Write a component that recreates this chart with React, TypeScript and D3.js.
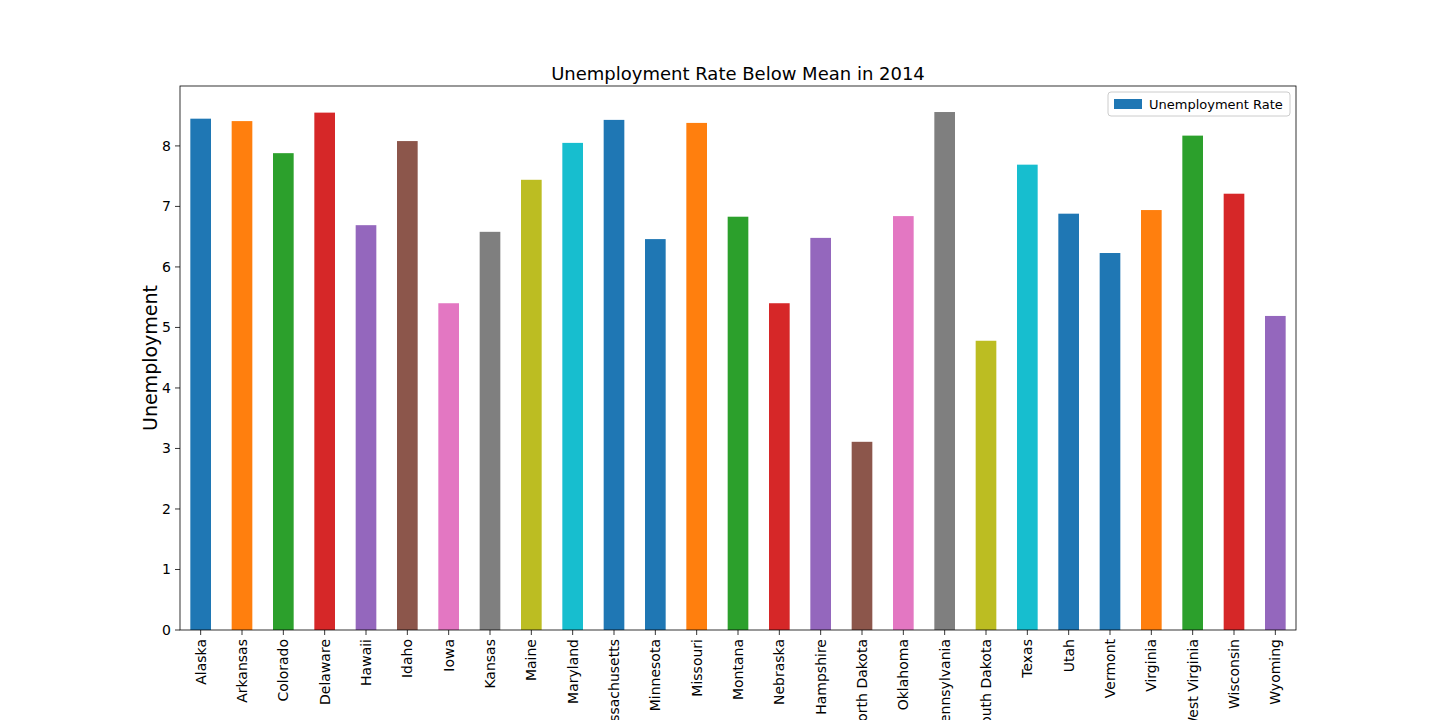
import React from 'react'
import * as d3 from 'd3'

const states = ['Alaska', 'Arkansas', 'Colorado', 'Delaware', 'Hawaii', 'Idaho', 'Iowa', 'Kansas', 'Maine', 'Maryland', 'Massachusetts', 'Minnesota', 'Missouri', 'Montana', 'Nebraska', 'New Hampshire', 'North Dakota', 'Oklahoma', 'Pennsylvania', 'South Dakota', 'Texas', 'Utah', 'Vermont', 'Virginia', 'West Virginia', 'Wisconsin', 'Wyoming']
const rates = [8.45, 8.41, 7.88, 8.55, 6.69, 8.08, 5.40, 6.58, 7.44, 8.05, 8.43, 6.46, 8.38, 6.83, 5.40, 6.48, 3.11, 6.84, 8.56, 4.78, 7.69, 6.88, 6.23, 6.94, 8.17, 7.21, 5.19]
const yTicks = [0, 1, 2, 3, 4, 5, 6, 7, 8]
// colour cycle as in the reference: tab10 followed by an extra blue
const palette = ['#1f77b4', '#ff7f0e', '#2ca02c', '#d62728', '#9467bd', '#8c564b', '#e377c2', '#7f7f7f', '#bcbd22', '#17becf', '#1f77b4']

const W = 1440
const H = 720
const m = { left: 180, right: 1296, top: 86, bottom: 630 }

export default function App() {
  const x = d3.scaleBand<string>().domain(states).range([m.left, m.right]).paddingInner(0.5).paddingOuter(0.25)
  const y = d3.scaleLinear().domain([0, 8.99]).range([m.bottom, m.top])
  const font = 'DejaVu Sans, sans-serif'

  return (
    <svg width={W} height={H} style={{ position: 'absolute', left: 0, top: 0, fontFamily: font }}>
      <rect width={W} height={H} fill="#fff" />
      {states.map((s, i) => (
        <rect key={s} x={x(s)} y={y(rates[i])} width={x.bandwidth()} height={y(0) - y(rates[i])} fill={palette[i % palette.length]} />
      ))}
      <rect x={m.left} y={m.top} width={m.right - m.left} height={m.bottom - m.top} fill="none" stroke="#000" strokeWidth={0.8} />
      {yTicks.map(t => (
        <g key={t} transform={`translate(${m.left},${y(t)})`}>
          <line x2={-5} stroke="#000" strokeWidth={0.8} />
          <text x={-9} dy="0.35em" textAnchor="end" fontSize={14}>{t}</text>
        </g>
      ))}
      {states.map(s => {
        const cx = (x(s) as number) + x.bandwidth() / 2
        return (
          <g key={s} transform={`translate(${cx},${m.bottom})`}>
            <line y2={5} stroke="#000" strokeWidth={0.8} />
            <text transform="translate(0,9) rotate(-90)" textAnchor="end" dy="0.35em" fontSize={14}>{s}</text>
          </g>
        )
      })}
      <text x={(m.left + m.right) / 2} y={80} textAnchor="middle" fontSize={18}>Unemployment Rate Below Mean in 2014</text>
      <text transform={`translate(157,${(m.top + m.bottom) / 2}) rotate(-90)`} textAnchor="middle" fontSize={19}>Unemployment</text>
      <g transform="translate(1108,92)">
        <rect width={182} height={24} rx={3} fill="#fff" stroke="#ccc" />
        <rect x={6} y={7} width={28} height={10} fill={palette[0]} />
        <text x={41} y={12} dy="0.35em" fontSize={13}>Unemployment Rate</text>
      </g>
    </svg>
  )
}
